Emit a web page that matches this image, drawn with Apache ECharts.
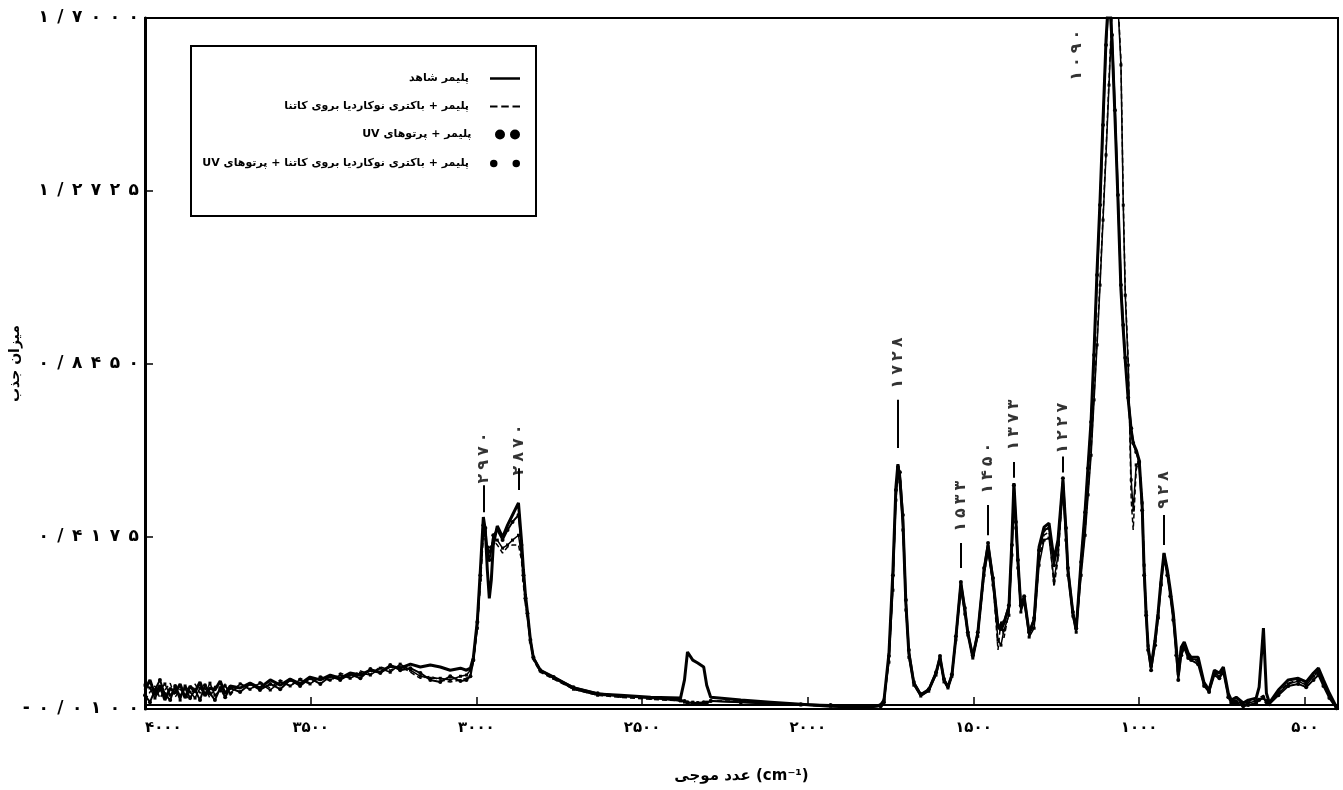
<!DOCTYPE html>
<html lang="en">
<head>
    <meta charset="UTF-8">
    <title>FTIR Spectrum</title>
    <script src="https://cdn.jsdelivr.net/npm/echarts@6.0.0/dist/echarts.min.js"></script>
    <style>
        body {
            margin: 0;
            background: #ffffff;
        }
        #chart {
            width: 1343px;
            height: 790px;
        }
    </style>
</head>
<body>
    <div id="chart"></div>

    <script>
        // wavenumber (cm-1), shared by all four spectra
        var wavenumber = [
            4000, 3985, 3970, 3955, 3940, 3924, 3909, 3894, 3879, 3864,
            3849, 3834, 3819, 3804, 3789, 3773, 3758, 3743,
            3713, 3683, 3653, 3622, 3592, 3562, 3532, 3502, 3471, 3441,
            3411, 3381, 3350, 3320, 3290, 3260, 3230, 3199, 3169, 3139,
            3109, 3079, 3048, 3030, 3018, 3009, 2997, 2988, 2979, 2973,
            2967, 2961, 2955, 2949, 2937, 2921, 2906, 2891, 2873, 2864,
            2858, 2852, 2846, 2837, 2828, 2807, 2767, 2707, 2634, 2565,
            2474, 2384, 2372, 2363, 2347, 2332, 2314, 2305, 2293, 2202,
            2112, 2021, 1931, 1849, 1810, 1780, 1770, 1755, 1743, 1734,
            1728, 1722, 1713, 1704, 1695, 1680, 1659, 1635, 1613, 1601,
            1589, 1577, 1565, 1553, 1538, 1526, 1517, 1502, 1487, 1468,
            1456, 1441, 1426, 1417, 1408, 1393, 1384, 1378, 1372, 1366,
            1357, 1347, 1332, 1317, 1302, 1287, 1272, 1257, 1245, 1230,
            1221, 1215, 1200, 1190, 1175, 1163, 1154, 1145, 1136, 1127,
            1118, 1109, 1100, 1091, 1082, 1073, 1064, 1055, 1048, 1042,
            1033, 1024, 1018, 1009, 1000, 991, 985, 979, 973, 964,
            952, 943, 934, 925, 915, 906, 897, 888, 882, 873,
            864, 852, 843, 822, 804, 789, 773, 758, 746, 731,
            722, 707, 686, 671, 647, 638, 625, 616, 607, 580,
            550, 520, 496, 474, 459, 444, 426, 405, 400
        ];

        // absorbance, control polymer
        var controlAbs = [
            .037, .062, .024, .049, .012, .042, .029, .052, .017, .047,
            .032, .057, .022, .042, .037, .059, .027, .047,
            .042, .054, .042, .062, .049, .064, .052, .069, .062, .074,
            .066, .079, .074, .086, .081, .096, .091, .101, .094, .099,
            .094, .086, .091, .086, .091, .118, .210, .334, .465, .433,
            .334, .264, .309, .396, .443, .415, .445, .470, .500, .408,
            .334, .272, .230, .161, .116, .086, .069, .042, .027, .024,
            .019, .017, .062, .131, .111, .104, .094, .049, .019, .012,
            .007, .002, -.003, -.005, -.005, .000, .012, .128, .334, .539,
            .596, .557, .458, .252, .128, .054, .024, .037, .079, .118,
            .062, .044, .074, .168, .302, .235, .178, .118, .178, .334,
            .396, .309, .193, .185, .203, .242, .408, .549, .458, .359,
            .242, .267, .178, .210, .391, .440, .450, .359, .408, .557,
            .433, .334, .227, .185, .359, .482, .594, .705, .878, 1.076,
            1.250, 1.448, 1.646, 1.769, 1.646, 1.455, 1.250, 1.027, .928, .853,
            .755, .680, .648, .631, .606, .495, .334, .227, .143, .094,
            .161, .227, .309, .376, .334, .284, .227, .143, .074, .143,
            .156, .128, .118, .118, .054, .037, .086, .079, .094, .029,
            .012, .019, .005, .012, .017, .044, .190, .029, .005, .037,
            .062, .066, .057, .079, .091, .062, .029, -.005, -.012
        ];

        // polymer + Nocardia on Katira
        var bacteriaAbs = [
            .012, .032, .047, .017, .037, .054, .019, .039, .027, .012,
            .052, .029, .042, .017, .047, .032, .052, .024,
            .054, .037, .057, .042, .062, .047, .066, .054, .071, .059,
            .079, .069, .084, .076, .094, .086, .096, .081, .066, .071,
            .062, .057, .062, .066, .076, .106, .198, .297, .420, .408,
            .396, .388, .396, .408, .396, .376, .391, .396, .396, .359,
            .297, .247, .215, .153, .111, .081, .064, .039, .024, .019,
            .014, .010, .007, .005, .005, .002, .005, .007, .010, .010,
            .005, .000, -.003, -.005, -.005, .000, .010, .111, .297, .520,
            .581, .561, .445, .247, .123, .052, .024, .037, .076, .111,
            .059, .042, .071, .161, .289, .230, .175, .116, .173, .321,
            .383, .302, .136, .210, .166, .230, .383, .532, .445, .346,
            .235, .260, .173, .198, .359, .420, .428, .292, .359, .544,
            .420, .329, .222, .185, .334, .433, .532, .631, .767, .903,
            1.052, 1.212, 1.373, 1.547, 1.720, 1.769, 1.745, 1.596, 1.250, 1.027,
            .853, .507, .433, .581, .611, .507, .359, .235, .148, .099,
            .156, .222, .304, .368, .329, .279, .220, .136, .099, .136,
            .148, .123, .116, .106, .057, .042, .081, .074, .091, .027,
            .010, .012, .002, .007, .012, .017, .024, .012, .007, .032,
            .054, .062, .052, .074, .084, .057, .024, -.005, -.012
        ];

        // polymer + UV
        var uvAbs = [
            .024, .007, .037, .062, .027, .012, .047, .022, .042, .017,
            .037, .012, .049, .029, .012, .042, .019, .042,
            .032, .052, .037, .052, .039, .062, .047, .066, .052, .071,
            .062, .076, .066, .089, .079, .099, .086, .091, .079, .062,
            .057, .071, .059, .062, .071, .111, .205, .321, .445, .438,
            .383, .359, .383, .420, .433, .408, .433, .453, .470, .396,
            .321, .264, .227, .161, .118, .086, .069, .044, .029, .022,
            .017, .012, .010, .007, .005, .005, .007, .005, .010, .007,
            .005, .002, .000, -.005, -.005, -.003, .007, .121, .321, .532,
            .589, .576, .470, .260, .136, .057, .027, .039, .081, .121,
            .064, .047, .076, .170, .304, .240, .180, .123, .180, .339,
            .401, .314, .198, .190, .205, .247, .396, .544, .453, .359,
            .247, .269, .180, .215, .383, .433, .438, .346, .396, .561,
            .438, .339, .230, .190, .354, .477, .586, .700, .866, 1.064,
            1.237, 1.435, 1.633, 1.757, 1.658, 1.472, 1.262, 1.039, .940, .859,
            .760, .685, .648, .626, .601, .482, .321, .222, .136, .086,
            .148, .215, .297, .364, .321, .269, .210, .123, .062, .123,
            .141, .116, .111, .101, .047, .032, .074, .066, .081, .019,
            .005, .005, -.003, .000, .005, .012, .017, .007, .002, .024,
            .047, .052, .044, .062, .074, .047, .017, -.008, -.012
        ];

        // polymer + Nocardia on Katira + UV
        var bacteriaUvAbs = [
            .049, .042, .017, .037, .052, .024, .042, .012, .047, .032,
            .017, .042, .027, .054, .024, .037, .047, .029,
            .052, .039, .054, .037, .057, .047, .062, .052, .069, .062,
            .074, .066, .079, .074, .091, .081, .101, .086, .071, .066,
            .066, .062, .071, .074, .086, .111, .190, .309, .433, .420,
            .388, .378, .391, .408, .408, .388, .396, .408, .420, .371,
            .309, .260, .222, .156, .116, .084, .066, .039, .024, .022,
            .017, .010, .007, .005, .007, .005, .002, .007, .010, .007,
            .002, .000, -.003, -.005, -.005, .000, .012, .106, .284, .507,
            .569, .552, .433, .235, .118, .049, .022, .034, .074, .111,
            .057, .042, .071, .161, .284, .225, .173, .116, .170, .321,
            .378, .297, .161, .148, .185, .222, .371, .520, .438, .339,
            .230, .255, .168, .190, .346, .408, .413, .309, .371, .532,
            .408, .321, .220, .180, .321, .420, .520, .618, .755, .891,
            1.039, 1.200, 1.361, 1.534, 1.707, 1.757, 1.732, 1.584, 1.237, 1.014,
            .841, .557, .482, .594, .601, .500, .346, .230, .146, .096,
            .158, .220, .302, .371, .326, .274, .215, .131, .086, .131,
            .146, .121, .114, .111, .052, .037, .079, .071, .086, .024,
            .007, .010, .000, .005, .010, .014, .019, .010, .005, .029,
            .052, .059, .049, .071, .081, .054, .022, -.005, -.012
        ];

        var seriesNames = [
            'پلیمر شاهد',
            'پلیمر + باکتری نوکاردیا بروی کاتنا',
            'پلیمر + پرتوهای UV',
            'پلیمر + باکتری نوکاردیا بروی کاتنا + پرتوهای UV'
        ];

        // peak annotations: position, label, label centre, tick top/bottom
        var peakWn = [2979, 2873, 1728, 1538, 1456, 1378, 1230, 1187, 925];
        var peakText = ['۲۹۷۰', '۲۸۷۰', '۱۷۲۸', '۱۵۳۳', '۱۴۵۰', '۱۳۷۳', '۱۲۲۷', '۱۰۹۰', '۹۲۸'];
        var peakTextAt = [.611, .631, .846, .492, .586, .693, .685, 1.608, .532];
        var peakTickTop = [.544, .586, .755, .401, .495, .601, .615, null, .470];
        var peakTickBottom = [.477, .532, .636, .339, .420, .562, .575, null, .396];

        var xTicks = [500, 1000, 1500, 2000, 2500, 3000, 3500, 4000];

        var FA = '۰۱۲۳۴۵۶۷۸۹';
        function toFa(s) {
            return String(s).replace(/[0-9]/g, function (d) { return FA[d]; });
        }

        function pairs(ys) {
            return wavenumber.map(function (x, i) { return [x, ys[i]]; });
        }

        var font = "'DejaVu Sans', sans-serif";
        var chart = echarts.init(document.getElementById('chart'));

        var legendTops = [68, 96, 124, 153];
        var legendIcons = [
            'path://M0,0H30V2.5H0Z',
            'path://M0,0H6V1.5H0Z M9,0H15V1.5H9Z M18,0H24V1.5H18Z',
            'path://M4,0A4,4,0,1,1,4,8A4,4,0,1,1,4,0Z M16,0A4,4,0,1,1,16,8A4,4,0,1,1,16,0Z',
            'path://M2,0A2,2,0,1,1,2,4A2,2,0,1,1,2,0Z M14,0A2,2,0,1,1,14,4A2,2,0,1,1,14,0Z'
        ];

        var option = {
            animation: false,
            backgroundColor: '#fff',
            grid: {
                left: 145,
                right: 5,
                top: 18,
                bottom: 81,
                outerBoundsMode: 'none',
                show: true,
                borderColor: '#000',
                borderWidth: 2
            },
            legend: seriesNames.map(function (n, i) {
                return {
                    data: [n],
                    right: 818,
                    top: legendTops[i],
                    align: 'right',
                    icon: legendIcons[i],
                    itemWidth: 30,
                    itemHeight: 10,
                    selectedMode: false,
                    textStyle: {
                        fontFamily: font,
                        fontWeight: 'bold',
                        fontSize: 11,
                        color: '#000',
                        padding: [0, 16, 0, 0]
                    },
                    formatter: function (name) { return '\u202B' + name + '\u202C'; }
                };
            }),
            graphic: [{
                type: 'rect',
                left: 190,
                top: 45,
                shape: { width: 345, height: 170 },
                style: { fill: 'rgba(0,0,0,0)', stroke: '#000', lineWidth: 2 },
                silent: true
            }],
            xAxis: {
                type: 'value',
                min: 400,
                max: 4000,
                inverse: true,
                name: 'عدد موجی (cm⁻¹)',
                nameLocation: 'middle',
                nameGap: 60,
                nameMoveOverlap: false,
                nameTextStyle: { fontFamily: font, fontWeight: 'bold', fontSize: 15, color: '#000' },
                splitLine: { show: false },
                axisLine: { lineStyle: { color: '#000', width: 2 } },
                axisTick: { inside: true, length: 8, customValues: xTicks, lineStyle: { color: '#000', width: 1.5 } },
                axisLabel: {
                    customValues: xTicks,
                    margin: 12,
                    fontFamily: font,
                    fontWeight: 'bold',
                    fontSize: 15,
                    color: '#000',
                    alignMaxLabel: 'left',
                    formatter: function (v) { return toFa(v); }
                }
            },
            yAxis: {
                type: 'value',
                min: -0.01,
                max: 1.7,
                interval: 0.4275,
                name: 'میزان جذب',
                nameLocation: 'middle',
                nameRotate: 90,
                nameGap: 123,
                nameMoveOverlap: false,
                nameTextStyle: { fontFamily: font, fontWeight: 'bold', fontSize: 14, color: '#000' },
                splitLine: { show: false },
                axisLine: { show: true, lineStyle: { color: '#000', width: 3 } },
                axisTick: { inside: true, length: 8, lineStyle: { color: '#000', width: 1.5 } },
                axisLabel: {
                    margin: 6,
                    fontFamily: font,
                    fontWeight: 'bold',
                    fontSize: 17,
                    color: '#000',
                    formatter: function (v) {
                        return toFa(v.toFixed(4)).replace('.', '/').split('').join('\u2002');
                    }
                }
            },
            series: [
                {
                    name: seriesNames[0],
                    type: 'line',
                    data: pairs(controlAbs),
                    showSymbol: false,
                    color: '#000',
                    lineStyle: { width: 3, color: '#000' },
                    z: 4
                },
                {
                    name: seriesNames[1],
                    type: 'line',
                    data: pairs(bacteriaAbs),
                    showSymbol: false,
                    color: '#000',
                    lineStyle: { width: 1.5, type: [5, 3], color: '#000' },
                    z: 3
                },
                {
                    name: seriesNames[2],
                    type: 'line',
                    data: pairs(uvAbs),
                    symbol: 'circle',
                    symbolSize: 4,
                    showSymbol: true,
                    color: '#000',
                    itemStyle: { color: '#000' },
                    lineStyle: { width: 2, color: '#000' },
                    z: 2
                },
                {
                    name: seriesNames[3],
                    type: 'line',
                    data: pairs(bacteriaUvAbs),
                    symbol: 'rect',
                    symbolSize: 3,
                    showSymbol: true,
                    color: '#000',
                    itemStyle: { color: '#000' },
                    lineStyle: { width: 1.5, color: '#000' },
                    z: 2
                },
                {
                    name: 'peaks',
                    type: 'scatter',
                    symbolSize: 0,
                    silent: true,
                    data: peakWn.map(function (w, i) { return [w, peakTextAt[i], peakText[i]]; }),
                    label: {
                        show: true,
                        position: 'inside',
                        rotate: 90,
                        fontFamily: font,
                        fontWeight: 'bold',
                        fontSize: 16,
                        color: '#000',
                        formatter: function (p) { return p.data[2].split('').join('\u2005'); }
                    },
                    markLine: {
                        silent: true,
                        symbol: ['none', 'none'],
                        label: { show: false },
                        lineStyle: { color: '#000', width: 2, type: 'solid' },
                        data: peakWn.map(function (w, i) {
                            return [{ coord: [w, peakTickTop[i]] }, { coord: [w, peakTickBottom[i]] }];
                        }).filter(function (d, i) { return peakTickTop[i] !== null; })
                    }
                }
            ]
        };

        chart.setOption(option);

        window.onresize = function () {
            chart.resize();
        };
    </script>
</body>
</html>
